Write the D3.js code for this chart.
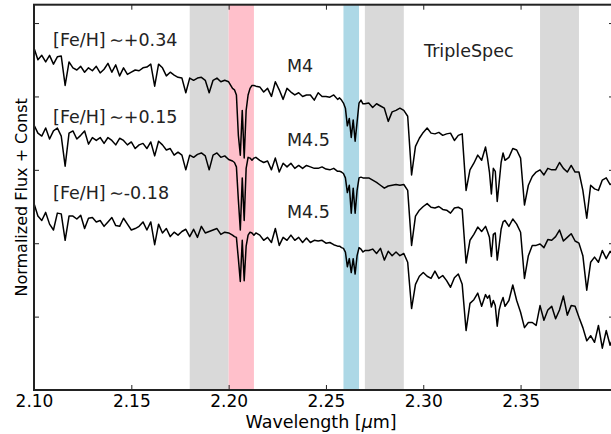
<!DOCTYPE html>
<html>
<head>
<meta charset="utf-8">
<script src="https://cdn.jsdelivr.net/npm/d3@7"></script>
<style>
  body { margin: 0; background: #fff; }
  svg { display: block; }
  text { font-family: "DejaVu Sans", sans-serif; }
</style>
</head>
<body>
<div id="chart"></div>
<script>
// wavelength grid (micron), finer around the Na and Ca lines
const wave = [
  2.100, 2.102, 2.104, 2.106, 2.108, 2.110, 2.112, 2.114, 2.116, 2.118,
  2.120, 2.122, 2.124, 2.126, 2.128, 2.130, 2.132, 2.134, 2.136, 2.138,
  2.140, 2.142, 2.144, 2.146, 2.148, 2.150, 2.152, 2.154, 2.156, 2.158,
  2.160, 2.162, 2.164, 2.166, 2.168, 2.170, 2.172, 2.174, 2.176, 2.178,
  2.180, 2.182, 2.184, 2.186, 2.188, 2.190, 2.192, 2.194, 2.196, 2.198,
  2.200, 2.202,
  2.203, 2.204, 2.205, 2.206, 2.207, 2.208, 2.209, 2.210, 2.211, 2.212, 2.213, 2.214,
  2.216, 2.218, 2.220, 2.222, 2.224, 2.226, 2.228, 2.230, 2.232, 2.234, 2.236,
  2.238, 2.240, 2.242, 2.244, 2.246, 2.248, 2.250, 2.252, 2.254, 2.256,
  2.257, 2.258, 2.259, 2.260, 2.261, 2.262, 2.263, 2.264, 2.265, 2.266, 2.267, 2.268, 2.269, 2.270,
  2.272, 2.274, 2.276, 2.278, 2.280, 2.282, 2.284, 2.286, 2.288, 2.290, 2.292,
  2.294, 2.296, 2.298, 2.300, 2.302, 2.304, 2.306, 2.308, 2.310, 2.312, 2.314,
  2.316, 2.318, 2.320, 2.322, 2.324, 2.326, 2.328, 2.330, 2.332,
  2.333, 2.334, 2.335, 2.336, 2.337, 2.338, 2.339, 2.340, 2.341,
  2.342, 2.344, 2.346, 2.348, 2.350, 2.352, 2.354, 2.356, 2.358, 2.360,
  2.362, 2.364, 2.366, 2.368, 2.370, 2.372, 2.374, 2.376, 2.378, 2.380,
  2.382, 2.384, 2.386, 2.388, 2.390, 2.392, 2.394, 2.396, 2.398
];

// [Fe/H] ~ +0.34, M4
const fluxTop = [
  4.66, 4.50, 4.56, 4.47, 4.56, 4.44, 4.54, 4.55, 4.15, 4.47,
  4.39, 4.36, 4.41, 4.33, 4.39, 4.35, 4.41, 4.32, 4.37, 4.45,
  4.33, 4.43, 4.28, 4.39, 4.30, 4.33, 4.36, 4.35, 4.39, 4.40,
  4.44, 4.14, 4.44, 4.39, 4.28, 4.33, 4.29, 4.26, 4.25, 4.05,
  4.25, 4.22, 4.25, 4.26, 4.22, 4.05, 4.22, 4.25, 4.20, 4.22,
  4.20, 4.11,
  4.09, 4.02, 3.47, 3.20, 3.81, 3.16, 3.81, 4.02, 4.11, 4.15, 4.15, 4.14,
  4.13, 4.06, 4.11, 4.00, 4.20, 4.09, 3.96, 4.11, 4.06, 4.02, 4.05,
  4.00, 4.02, 4.02, 3.95, 4.05, 4.00, 4.00, 3.99, 4.02, 3.96,
  3.98, 3.95, 3.91, 3.84, 3.60, 3.70, 3.44, 3.68, 3.39, 3.65, 3.91, 3.95, 3.90, 3.90,
  3.91, 3.85, 3.90, 3.87, 3.84, 3.66, 3.79, 3.81, 3.84, 3.81, 3.73,
  2.93, 3.32, 3.43, 3.51, 3.57, 3.50, 3.49, 3.51, 3.47, 3.49, 3.50,
  3.40, 3.47, 3.49, 2.72, 3.00, 3.09, 3.20, 3.13, 3.31,
  3.16, 2.97, 2.67, 3.02, 2.98, 2.57, 2.83, 3.10, 3.23,
  3.13, 3.17, 3.29, 3.27, 3.16, 2.52, 2.79, 2.91, 2.97, 3.00,
  2.93, 3.02, 3.00, 3.00, 3.10, 3.02, 2.97, 3.06, 2.97, 2.97,
  2.72, 2.34, 2.79, 2.74, 2.72, 2.86, 2.89, 2.80, 2.83
];

// [Fe/H] ~ +0.15, M4.5
const fluxMid = [
  3.61, 3.50, 3.46, 3.57, 3.42, 3.53, 3.57, 3.46, 3.05, 3.50,
  3.53, 3.42, 3.47, 3.53, 3.35, 3.44, 3.40, 3.44, 3.36, 3.44,
  3.40, 3.34, 3.43, 3.40, 3.34, 3.38, 3.29, 3.34, 3.36, 3.29,
  3.38, 3.19, 3.39, 3.34, 3.27, 3.29, 3.20, 3.24, 3.20, 3.00,
  3.20, 3.17, 3.21, 3.23, 3.19, 3.00, 3.20, 3.23, 3.17, 3.19,
  3.14, 3.12,
  3.10, 3.04, 2.59, 2.18, 2.89, 2.31, 3.02, 3.17, 3.16, 3.13, 3.16, 3.17,
  3.13, 3.10, 3.12, 3.00, 3.16, 2.97, 3.09, 3.04, 3.09, 3.02, 3.06,
  3.02, 3.06, 3.04, 3.02, 3.02, 3.04, 3.01, 3.00, 3.02, 2.98,
  2.98, 2.97, 2.95, 2.89, 2.69, 2.79, 2.41, 2.75, 2.41, 2.72, 2.89, 2.90, 2.89, 2.89,
  2.89, 2.86, 2.83, 2.79, 2.75, 2.78, 2.79, 2.80, 2.79, 2.80, 2.72,
  1.97, 2.37, 2.45, 2.50, 2.54, 2.49, 2.48, 2.50, 2.46, 2.45, 2.41,
  2.48, 2.49, 2.46, 1.73, 2.04, 2.12, 2.22, 2.16, 2.23,
  2.16, 2.08, 1.82, 2.12, 2.14, 1.77, 1.97, 2.19, 2.29,
  2.31, 2.23, 2.33, 2.26, 2.15, 1.52, 1.83, 1.97, 1.97, 1.99,
  1.94, 2.05, 2.04, 2.09, 2.18, 2.03, 2.08, 2.13, 2.03, 2.00,
  1.83, 1.36, 1.74, 1.81, 1.74, 1.90, 1.79, 1.89, 1.83
];

// [Fe/H] ~ -0.18, M4.5
const fluxLow = [
  2.54, 2.37, 2.31, 2.42, 2.26, 2.18, 2.41, 2.40, 2.04, 2.37,
  2.37, 2.33, 2.38, 2.20, 2.34, 2.35, 2.29, 2.31, 2.23, 2.29,
  2.35, 2.24, 2.23, 2.34, 2.26, 2.18, 2.20, 2.23, 2.29, 2.18,
  2.29, 1.98, 2.26, 2.14, 2.20, 2.09, 2.15, 2.11, 2.16, 2.19,
  2.09, 2.19, 2.08, 2.23, 2.14, 2.16, 2.18, 2.20, 2.12, 2.15,
  2.14, 2.11,
  2.09, 2.08, 1.79, 1.48, 2.04, 1.49, 1.96, 2.11, 2.15, 2.14, 2.11, 2.14,
  2.11, 2.04, 2.08, 2.01, 2.20, 1.97, 2.08, 2.04, 2.11, 2.04, 2.08,
  2.01, 2.07, 2.01, 2.04, 2.03, 2.04, 2.00, 2.01, 1.98, 1.96,
  1.96, 1.94, 1.93, 1.88, 1.68, 1.79, 1.60, 1.79, 1.58, 1.83, 1.94, 1.92, 1.88, 1.90,
  1.90, 1.92, 1.86, 1.93, 1.77, 1.89, 1.83, 1.88, 1.83, 1.86, 1.74,
  1.11, 1.44, 1.55, 1.60, 1.55, 1.52, 1.62, 1.52, 1.56, 1.49, 1.40,
  1.53, 1.58, 1.44, 0.81, 1.18, 1.23, 1.32, 1.14, 1.30,
  1.25, 1.29, 1.13, 1.22, 1.15, 0.87, 1.09, 1.19, 1.26,
  1.14, 1.22, 1.43, 1.22, 1.06, 0.85, 0.92, 0.92, 0.88, 1.15,
  0.95, 1.09, 1.14, 0.97, 1.09, 1.28, 1.02, 1.15, 1.14, 0.99,
  0.85, 0.67, 0.74, 0.65, 0.88, 0.57, 0.81, 0.61, 0.74
];

const spectra = [fluxTop, fluxMid, fluxLow];
const metallicity = ["+0.34", "+0.15", "-0.18"];
const spectralTypes = ["M4", "M4.5", "M4.5"];

// shaded wavelength windows: [start, end, kind]
const bands = [
  [2.180, 2.200, "gray"],
  [2.200, 2.213, "na"],
  [2.259, 2.267, "ca"],
  [2.270, 2.290, "gray"],
  [2.360, 2.380, "gray"]
];

const xTicks = [2.10, 2.15, 2.20, 2.25, 2.30, 2.35];
const yTicks = [0, 1, 2, 3, 4, 5];

spectra.forEach((s, i) => {
  if (s.length !== wave.length) console.error("spectrum", i, s.length, wave.length);
});

const width = 611;
const height = 434;

const bandColor = { gray: "#d9d9d9", na: "#ffc0cb", ca: "#add8e6" };

const svg = d3
  .select("#chart")
  .append("svg")
  .attr("width", width)
  .attr("height", height);

const x = d3.scaleLinear().domain([2.10, 2.398]).range([34, 614]);
const y = d3.scaleLinear().domain([0, 5.25]).range([390, 4.7]);

svg
  .append("defs")
  .append("clipPath")
  .attr("id", "plot-clip")
  .append("rect")
  .attr("x", x(2.10))
  .attr("y", y(5.25))
  .attr("width", x(2.398) - x(2.10))
  .attr("height", y(0) - y(5.25));

const plot = svg.append("g").attr("clip-path", "url(#plot-clip)");

plot
  .selectAll(".band")
  .data(bands)
  .join("rect")
  .attr("class", "band")
  .attr("x", (d) => x(d[0]))
  .attr("width", (d) => x(d[1]) - x(d[0]))
  .attr("y", y(5.25))
  .attr("height", y(0) - y(5.25))
  .attr("fill", (d) => bandColor[d[2]]);

const lineGen = d3
  .line()
  .x((d, i) => x(wave[i]))
  .y((d) => y(d));

plot
  .selectAll(".spec")
  .data(spectra)
  .join("path")
  .attr("class", "spec")
  .attr("fill", "none")
  .attr("stroke", "#000")
  .attr("stroke-width", 1.5)
  .attr("stroke-linejoin", "round")
  .attr("d", lineGen);

// axes, matplotlib style inward ticks
const xAxis = d3
  .axisBottom(x)
  .tickValues(xTicks)
  .tickFormat(d3.format(".2f"))
  .tickSizeInner(-5)
  .tickSizeOuter(0)
  .tickPadding(5);

const gx = svg.append("g").attr("transform", `translate(0,${y(0)})`).call(xAxis);
gx.select(".domain").remove();
gx.selectAll("text").attr("font-size", 17).attr("fill", "#000").attr("font-family", "DejaVu Sans");

const gxTop = svg
  .append("g")
  .attr("transform", `translate(0,${y(5.25)})`)
  .call(d3.axisTop(x).tickValues(xTicks).tickSize(-5).tickFormat(""));
gxTop.select(".domain").remove();

const gy = svg
  .append("g")
  .attr("transform", `translate(${x(2.10)},0)`)
  .call(d3.axisLeft(y).tickValues(yTicks).tickSize(-5).tickFormat(""));
gy.select(".domain").remove();

const gyRight = svg
  .append("g")
  .attr("transform", `translate(${x(2.398)},0)`)
  .call(d3.axisRight(y).tickValues(yTicks).tickSize(-5).tickFormat(""));
gyRight.select(".domain").remove();

svg.selectAll(".tick line").attr("stroke", "#222").attr("stroke-width", 1);

// frame
svg
  .append("rect")
  .attr("x", x(2.10))
  .attr("y", y(5.25))
  .attr("width", x(2.398) - x(2.10))
  .attr("height", y(0) - y(5.25))
  .attr("fill", "none")
  .attr("stroke", "#222")
  .attr("stroke-width", 2);

// labels
const metalPos = [
  [2.1098, 4.687],
  [2.1098, 3.638],
  [2.1098, 2.603]
];
const typePos = [
  [2.2300, 4.333],
  [2.2300, 3.325],
  [2.2300, 2.344]
];

svg
  .selectAll(".feh")
  .data(metallicity)
  .join("text")
  .attr("class", "feh")
  .attr("x", (d, i) => x(metalPos[i][0]))
  .attr("y", (d, i) => y(metalPos[i][1]))
  .attr("font-size", 17.5)
  .attr("fill", "#222")
  .text((d) => "[Fe/H]\u2009\u223C" + d);

svg
  .selectAll(".sptype")
  .data(spectralTypes)
  .join("text")
  .attr("class", "sptype")
  .attr("x", (d, i) => x(typePos[i][0]))
  .attr("y", (d, i) => y(typePos[i][1]))
  .attr("font-size", 17.5)
  .attr("fill", "#222")
  .text((d) => d);

svg
  .append("text")
  .attr("x", x(2.3004))
  .attr("y", y(4.537))
  .attr("font-size", 17.5)
  .attr("fill", "#222")
  .text("TripleSpec");

const xLabel = svg
  .append("text")
  .attr("x", x(2.2475))
  .attr("y", 428)
  .attr("text-anchor", "middle")
  .attr("font-size", 17.5)
  .attr("fill", "#000");
xLabel.append("tspan").text("Wavelength [");
xLabel.append("tspan").attr("font-style", "italic").text("\u03BC");
xLabel.append("tspan").text("m]");

svg
  .append("text")
  .attr("transform", `translate(27,${(y(0) + y(5.25)) / 2}) rotate(-90)`)
  .attr("text-anchor", "middle")
  .attr("font-size", 16)
  .attr("fill", "#000")
  .text("Normalized Flux + Const");
</script>
</body>
</html>
